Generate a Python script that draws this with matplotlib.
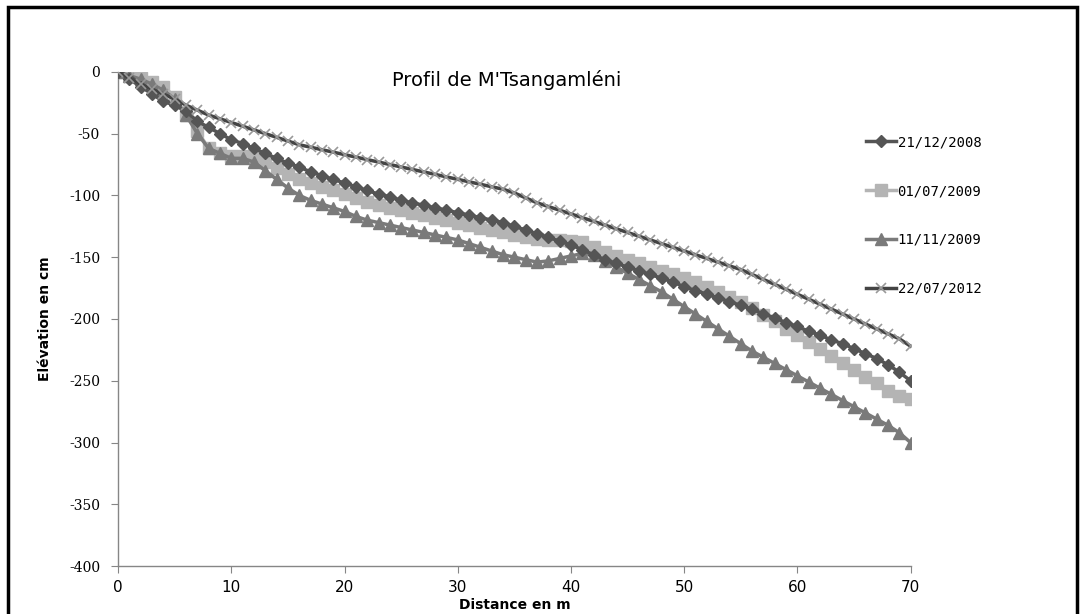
"""Profil de plage de M'Tsangamléni - quatre levés."""

import matplotlib
matplotlib.use("Agg")
import matplotlib.pyplot as plt
from matplotlib.patches import Rectangle

# Distance le long du profil (m)
distance = list(range(0, 71))

# Elévation (cm) par date de levé
elev_2008_12_21 = [
    0, -6, -12, -18, -24, -27, -32, -40, -45, -50,
    -55, -58, -62, -66, -70, -74, -77, -81, -84, -87,
    -90, -93, -96, -99, -101, -104, -106, -108, -110, -112,
    -114, -116, -118, -120, -122, -125, -128, -131, -134, -137,
    -140, -144, -148, -152, -155, -158, -161, -164, -167, -170,
    -174, -177, -180, -183, -186, -189, -192, -196, -199, -203,
    -206, -210, -213, -217, -220, -224, -228, -232, -237, -243,
    -250,
]
elev_2009_07_01 = [
    0, 0, -5, -8, -12, -20, -35, -48, -62, -66,
    -68, -68, -68, -73, -78, -83, -87, -90, -93, -96,
    -99, -102, -105, -108, -110, -112, -114, -116, -118, -120,
    -122, -124, -126, -128, -130, -132, -134, -135, -136, -136,
    -137, -138, -142, -146, -149, -152, -155, -158, -161, -164,
    -167, -170, -174, -178, -182, -186, -191, -197, -202, -208,
    -213, -219, -224, -230, -236, -241, -247, -252, -258, -262,
    -265,
]
elev_2009_11_11 = [
    0, -3, -6, -10, -15, -22, -35, -50, -62, -66,
    -70, -70, -73, -80, -87, -94, -100, -104, -107, -110,
    -113, -117, -120, -122, -124, -126, -128, -130, -132, -134,
    -136, -139, -142, -145, -148, -150, -152, -154, -153, -151,
    -149, -147, -148, -153, -158, -163, -168, -173, -178, -184,
    -190, -196, -202, -208, -214, -220, -226, -231, -236, -241,
    -246, -251, -256, -261, -266, -271, -276, -281, -286, -292,
    -300,
]
elev_2012_07_22 = [
    0, -5, -10, -14, -18, -22, -27, -31, -35, -38,
    -41, -44, -47, -50, -53, -56, -59, -61, -63, -65,
    -67, -69, -71, -73, -75, -77, -79, -81, -83, -85,
    -87, -89, -91, -93, -95, -98, -102, -106, -109, -112,
    -115, -118, -121, -124, -127, -130, -133, -136, -139, -142,
    -145, -148, -151, -154, -157, -160, -164, -168, -172, -176,
    -180, -184, -188, -192, -196, -200, -204, -208, -212, -216,
    -222,
]

dates = ["21/12/2008", "01/07/2009", "11/11/2009", "22/07/2012"]
y_ticks = [0, -50, -100, -150, -200, -250, -300, -350, -400]
x_ticks = [0, 10, 20, 30, 40, 50, 60, 70]

fig = plt.figure(figsize=(10.84, 6.14), dpi=100)
ax = fig.add_axes([0.109, 0.078, 0.731, 0.805])

# Excel-like grey styles
ax.plot(distance, elev_2008_12_21, color="#555555", lw=2.5, marker="D",
        ms=6, mec="#555555", mfc="#555555", label=dates[0], zorder=3)
ax.plot(distance, elev_2009_07_01, color="#b4b4b4", lw=2.5, marker="s",
        ms=8, mec="#b4b4b4", mfc="#b4b4b4", label=dates[1], zorder=2)
ax.plot(distance, elev_2009_11_11, color="#7a7a7a", lw=2.5, marker="^",
        ms=8, mec="#7a7a7a", mfc="#7a7a7a", label=dates[2], zorder=2)
ax.plot(distance, elev_2012_07_22, color="#444444", lw=2.5, marker="x",
        ms=7, mew=1.2, mec="#999999", label=dates[3], zorder=4)

ax.set_xlim(0, 70)
ax.set_ylim(-400, 0)
ax.set_xticks(x_ticks)
ax.set_yticks(y_ticks)
ax.set_xticklabels([str(t) for t in x_ticks])
ax.set_yticklabels([str(t) for t in y_ticks])
for lab in ax.get_xticklabels():
    lab.set_fontfamily(["Liberation Sans Narrow", "DejaVu Sans"])
    lab.set_fontsize(11)
for lab in ax.get_yticklabels():
    lab.set_fontfamily(["DejaVu Serif"])
    lab.set_fontsize(10)
ax.tick_params(axis="both", direction="out", length=5, color="#868686")
ax.tick_params(axis="y", pad=8)
ax.tick_params(axis="x", pad=5)

for side in ["top", "right"]:
    ax.spines[side].set_visible(False)
for side in ["left", "bottom"]:
    ax.spines[side].set_color("#868686")
    ax.spines[side].set_linewidth(1.0)

ax.set_xlabel("Distance en m", fontsize=10, fontweight="bold", labelpad=2)
ax.set_ylabel("Elévation en cm", fontsize=10, fontweight="bold", labelpad=12)
ax.text(0.49, 0.984, "Profil de M'Tsangamléni", transform=ax.transAxes,
        ha="center", va="center", fontsize=14)

ax.legend(loc="upper left", bbox_to_anchor=(0.787, 0.80),
          bbox_transform=fig.transFigure, frameon=False,
          labelspacing=2.5, handlelength=2.2, handletextpad=0.1,
          prop={"family": "DejaVu Sans Mono", "size": 10})

# black frame around the chart area
fig.patches.append(Rectangle((8 / 1084, -0.02), 1069 / 1084, 1.02 - 7 / 614,
                             transform=fig.transFigure, fill=False,
                             edgecolor="black", lw=2.5))

fig.savefig("out.png", dpi=100, facecolor="white")
plt.close(fig)
